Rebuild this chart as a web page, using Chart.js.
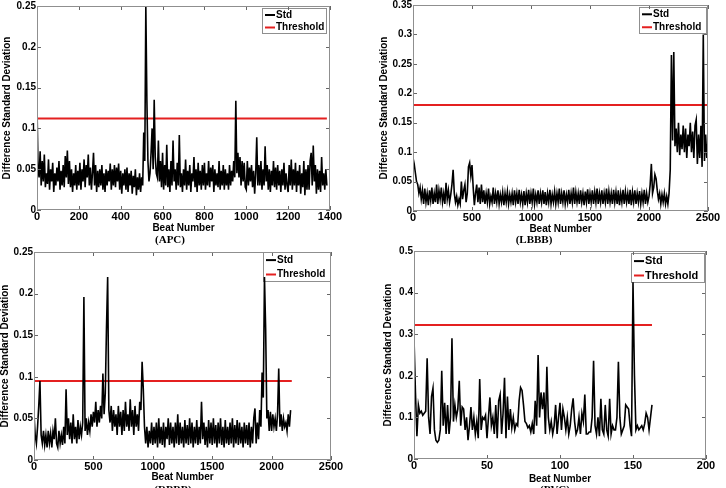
<!DOCTYPE html>
<html>
<head>
<meta charset="utf-8">
<script src="https://cdn.jsdelivr.net/npm/chart.js@4.4.1/dist/chart.umd.min.js"></script>
<style>
  body { margin: 0; width: 726px; height: 488px; overflow: hidden; background: #fff; position: relative; }
  canvas { position: absolute; }
  .cap { position: absolute; font: bold 11px "Liberation Serif", "Times New Roman", serif; transform: translate(-50%, -50%); white-space: nowrap; }
</style>
</head>
<body>
<script>
// APC record, one reading every 5 beats
const apcStep = 5;
const apcStd = [
  0.127, 0.050, 0.040, 0.072, 0.030, 0.060, 0.035, 0.068, 0.028, 0.045, 0.032, 0.062, 0.025, 0.050, 0.035, 0.058, 0.022, 0.045, 0.030, 0.052,
  0.035, 0.060, 0.025, 0.048, 0.030, 0.055, 0.028, 0.066, 0.040, 0.073, 0.032, 0.060, 0.028, 0.050, 0.022, 0.045, 0.030, 0.055, 0.025, 0.048,
  0.030, 0.058, 0.025, 0.050, 0.035, 0.062, 0.028, 0.055, 0.040, 0.068, 0.030, 0.052, 0.025, 0.045, 0.070, 0.030, 0.055, 0.022, 0.048, 0.028,
  0.050, 0.030, 0.055, 0.025, 0.045, 0.022, 0.050, 0.030, 0.048, 0.035, 0.057, 0.025, 0.050, 0.030, 0.055, 0.028, 0.052, 0.035, 0.057, 0.025,
  0.048, 0.020, 0.045, 0.030, 0.050, 0.025, 0.052, 0.022, 0.045, 0.030, 0.048, 0.020, 0.042, 0.028, 0.050, 0.018, 0.040, 0.025, 0.045, 0.022,
  0.040, 0.030, 0.095, 0.060, 0.250, 0.135, 0.060, 0.035, 0.045, 0.070, 0.100, 0.050, 0.135, 0.065, 0.045, 0.040, 0.085, 0.035, 0.060, 0.028,
  0.070, 0.025, 0.055, 0.030, 0.080, 0.028, 0.050, 0.022, 0.060, 0.030, 0.085, 0.035, 0.050, 0.025, 0.058, 0.030, 0.092, 0.028, 0.045, 0.022,
  0.050, 0.030, 0.062, 0.025, 0.048, 0.030, 0.055, 0.022, 0.045, 0.035, 0.065, 0.028, 0.050, 0.022, 0.058, 0.030, 0.048, 0.025, 0.055, 0.030,
  0.058, 0.025, 0.045, 0.030, 0.060, 0.028, 0.052, 0.035, 0.055, 0.022, 0.050, 0.030, 0.045, 0.028, 0.060, 0.025, 0.048, 0.030, 0.055, 0.025,
  0.050, 0.030, 0.045, 0.025, 0.055, 0.030, 0.048, 0.035, 0.060, 0.040, 0.134, 0.045, 0.070, 0.040, 0.065, 0.030, 0.060, 0.035, 0.058, 0.028,
  0.025, 0.060, 0.030, 0.052, 0.035, 0.055, 0.028, 0.048, 0.020, 0.045, 0.089, 0.030, 0.055, 0.030, 0.060, 0.025, 0.050, 0.030, 0.078, 0.035,
  0.055, 0.025, 0.050, 0.022, 0.048, 0.030, 0.060, 0.028, 0.052, 0.025, 0.055, 0.030, 0.048, 0.022, 0.050, 0.030, 0.058, 0.025, 0.045, 0.030,
  0.022, 0.055, 0.030, 0.062, 0.025, 0.050, 0.030, 0.058, 0.022, 0.048, 0.030, 0.055, 0.020, 0.045, 0.028, 0.060, 0.018, 0.050, 0.025, 0.055,
  0.025, 0.060, 0.070, 0.030, 0.079, 0.035, 0.055, 0.020, 0.050, 0.025, 0.048, 0.022, 0.065, 0.030, 0.045, 0.025, 0.050, 0.030
];
const apcThreshold = 0.112;
const apcEnd = 1385;
const apcXAxis = [0, 1400, 200];
const apcYAxis = [0, 0.25, 0.05];

// LBBB record, one reading every 10 beats
const lbbbStep = 10;
const lbbbStd = [
  0.090, 0.080, 0.065, 0.050, 0.045, 0.030, 0.040, 0.020, 0.035, 0.012, 0.038, 0.015, 0.030, 0.010, 0.035, 0.018, 0.040, 0.012, 0.030, 0.015,
  0.045, 0.012, 0.035, 0.020, 0.040, 0.015, 0.030, 0.012, 0.048, 0.020, 0.035, 0.015, 0.028, 0.045, 0.070, 0.030, 0.015, 0.025, 0.010, 0.020,
  0.012, 0.050, 0.020, 0.035, 0.045, 0.015, 0.030, 0.075, 0.082, 0.060, 0.078, 0.040, 0.010, 0.030, 0.045, 0.015, 0.040, 0.012, 0.045, 0.015,
  0.035, 0.012, 0.030, 0.015, 0.038, 0.012, 0.025, 0.015, 0.040, 0.012, 0.030, 0.015, 0.035, 0.012, 0.028, 0.015, 0.032, 0.010, 0.030, 0.015,
  0.033, 0.012, 0.028, 0.015, 0.030, 0.010, 0.035, 0.015, 0.030, 0.012, 0.036, 0.015, 0.028, 0.012, 0.034, 0.010, 0.030, 0.015, 0.036, 0.012,
  0.030, 0.015, 0.038, 0.012, 0.028, 0.015, 0.035, 0.012, 0.030, 0.015, 0.035, 0.012, 0.032, 0.010, 0.030, 0.015, 0.036, 0.012, 0.028, 0.015,
  0.033, 0.012, 0.030, 0.015, 0.038, 0.012, 0.030, 0.015, 0.035, 0.012, 0.028, 0.015, 0.036, 0.012, 0.030, 0.015, 0.040, 0.012, 0.032, 0.015,
  0.030, 0.012, 0.035, 0.015, 0.030, 0.010, 0.033, 0.015, 0.037, 0.012, 0.030, 0.015, 0.035, 0.012, 0.032, 0.015, 0.038, 0.012, 0.030, 0.015,
  0.035, 0.012, 0.030, 0.015, 0.038, 0.012, 0.033, 0.015, 0.030, 0.012, 0.036, 0.015, 0.032, 0.012, 0.035, 0.010, 0.030, 0.015, 0.036, 0.012,
  0.033, 0.015, 0.030, 0.012, 0.036, 0.010, 0.032, 0.015, 0.035, 0.012, 0.030, 0.015, 0.034, 0.012, 0.030, 0.015, 0.036, 0.012, 0.030, 0.015,
  0.025, 0.045, 0.080, 0.030, 0.040, 0.062, 0.055, 0.035, 0.020, 0.030, 0.012, 0.028, 0.015, 0.030, 0.012, 0.025, 0.012, 0.030, 0.070, 0.265,
  0.120, 0.270, 0.110, 0.140, 0.100, 0.150, 0.095, 0.130, 0.105, 0.145, 0.100, 0.140, 0.090, 0.130, 0.110, 0.150, 0.100, 0.135, 0.090, 0.145,
  0.155, 0.080, 0.130, 0.090, 0.145, 0.075, 0.300, 0.085, 0.130, 0.090, 0.120
];
const lbbbThreshold = 0.18;
const lbbbEnd = 2500;
const lbbbXAxis = [0, 2500, 500];
const lbbbYAxis = [0, 0.35, 0.05];

// RBBB record, one reading every 10 beats
const rbbbStep = 10;
const rbbbStd = [
  0.055, 0.030, 0.020, 0.040, 0.065, 0.095, 0.030, 0.020, 0.035, 0.018, 0.030, 0.015, 0.035, 0.020, 0.032, 0.015, 0.035, 0.025, 0.050, 0.020,
  0.015, 0.035, 0.020, 0.030, 0.018, 0.040, 0.020, 0.085, 0.030, 0.050, 0.025, 0.045, 0.020, 0.055, 0.025, 0.040, 0.020, 0.048, 0.025, 0.040,
  0.030, 0.045, 0.196, 0.035, 0.050, 0.030, 0.045, 0.035, 0.055, 0.040, 0.058, 0.045, 0.070, 0.040, 0.060, 0.045, 0.065, 0.050, 0.104, 0.055,
  0.080, 0.158, 0.220, 0.060, 0.045, 0.065, 0.035, 0.060, 0.040, 0.055, 0.030, 0.065, 0.040, 0.058, 0.030, 0.060, 0.035, 0.070, 0.040, 0.055,
  0.035, 0.073, 0.040, 0.060, 0.030, 0.065, 0.040, 0.055, 0.035, 0.070, 0.060, 0.118, 0.085, 0.040, 0.020, 0.040, 0.015, 0.035, 0.020, 0.045,
  0.018, 0.040, 0.020, 0.045, 0.015, 0.050, 0.020, 0.040, 0.018, 0.045, 0.015, 0.040, 0.025, 0.050, 0.018, 0.045, 0.020, 0.040, 0.015, 0.045,
  0.020, 0.055, 0.018, 0.045, 0.020, 0.040, 0.015, 0.048, 0.020, 0.042, 0.018, 0.050, 0.020, 0.045, 0.015, 0.040, 0.020, 0.048, 0.018, 0.040,
  0.020, 0.070, 0.025, 0.045, 0.018, 0.040, 0.015, 0.048, 0.020, 0.045, 0.018, 0.050, 0.020, 0.042, 0.015, 0.045, 0.020, 0.050, 0.018, 0.040,
  0.015, 0.048, 0.020, 0.040, 0.018, 0.045, 0.020, 0.050, 0.015, 0.042, 0.020, 0.048, 0.018, 0.045, 0.020, 0.040, 0.015, 0.045, 0.020, 0.042,
  0.018, 0.045, 0.015, 0.040, 0.020, 0.050, 0.062, 0.020, 0.045, 0.025, 0.060, 0.040, 0.105, 0.075, 0.220, 0.157, 0.050, 0.060, 0.035, 0.058,
  0.035, 0.055, 0.040, 0.050, 0.035, 0.055, 0.110, 0.040, 0.055, 0.035, 0.050, 0.040, 0.045, 0.035, 0.055, 0.040, 0.060
];
const rbbbThreshold = 0.095;
const rbbbEnd = 2170;
const rbbbXAxis = [0, 2500, 500];
const rbbbYAxis = [0, 0.25, 0.05];

// PVC record, every beat
const pvcStep = 1;
const pvcStd = [
  0.290, 0.160, 0.055, 0.130, 0.110, 0.115, 0.105, 0.110, 0.115, 0.242,
  0.100, 0.060, 0.150, 0.170, 0.070, 0.045, 0.040, 0.045, 0.070, 0.212,
  0.080, 0.135, 0.060, 0.130, 0.060, 0.100, 0.290, 0.090, 0.130, 0.100,
  0.120, 0.188, 0.080, 0.125, 0.120, 0.070, 0.100, 0.045, 0.080, 0.125,
  0.070, 0.100, 0.060, 0.090, 0.050, 0.192, 0.070, 0.100, 0.095, 0.105,
  0.050, 0.100, 0.148, 0.080, 0.100, 0.060, 0.130, 0.050, 0.140, 0.155,
  0.060, 0.110, 0.195, 0.050, 0.150, 0.070, 0.120, 0.075, 0.100, 0.070,
  0.085, 0.080, 0.140, 0.172, 0.165, 0.130, 0.090, 0.085, 0.075, 0.080,
  0.065, 0.085, 0.060, 0.140, 0.080, 0.250, 0.100, 0.160, 0.120, 0.160,
  0.060, 0.222, 0.100, 0.070, 0.090, 0.060, 0.080, 0.130, 0.060, 0.100,
  0.135, 0.070, 0.120, 0.100, 0.070, 0.100, 0.060, 0.080, 0.120, 0.146,
  0.090, 0.060, 0.070, 0.100, 0.060, 0.110, 0.090, 0.155, 0.060, 0.060,
  0.065, 0.065, 0.100, 0.236, 0.080, 0.060, 0.100, 0.055, 0.145, 0.070,
  0.060, 0.130, 0.070, 0.055, 0.145, 0.060, 0.080, 0.070, 0.070, 0.100,
  0.234, 0.100, 0.060, 0.070, 0.080, 0.130, 0.125, 0.120, 0.080, 0.055,
  0.425, 0.200, 0.070, 0.080, 0.070, 0.075, 0.080, 0.070, 0.085, 0.110,
  0.100, 0.070, 0.100, 0.130
];
const pvcThreshold = 0.322;
const pvcEnd = 163;
const pvcXAxis = [0, 200, 50];
const pvcYAxis = [0, 0.5, 0.1];

const seriesLabels = ['Std', 'Threshold'];

const panels = [
  { std: apcStd, step: apcStep, thr: apcThreshold, thrEnd: apcEnd, xAxis: apcXAxis, yAxis: apcYAxis,
    box: { l: 37, t: 6, r: 330, b: 210 }, yw: 36, xh: 24,
    lg: { w: 65, h: 26, dx: 3, dy: 2, fs: 10 }, caption: '(APC)', capX: 170, capY: 239 },
  { std: lbbbStd, step: lbbbStep, thr: lbbbThreshold, thrEnd: lbbbEnd, xAxis: lbbbXAxis, yAxis: lbbbYAxis,
    box: { l: 413, t: 5, r: 708, b: 211 }, yw: 35, xh: 24,
    lg: { w: 68, h: 27, dx: 1, dy: 2, fs: 10 }, caption: '(LBBB)', capX: 534, capY: 239 },
  { std: rbbbStd, step: rbbbStep, thr: rbbbThreshold, thrEnd: rbbbEnd, xAxis: rbbbXAxis, yAxis: rbbbYAxis,
    box: { l: 34, t: 252, r: 331, b: 460 }, yw: 35, xh: 23,
    lg: { w: 68, h: 30, dx: 0, dy: 0, fs: 10 }, caption: '(RBBB)', capX: 173, capY: 489 },
  { std: pvcStd, step: pvcStep, thr: pvcThreshold, thrEnd: pvcEnd, xAxis: pvcXAxis, yAxis: pvcYAxis,
    box: { l: 414, t: 251, r: 706, b: 459 }, yw: 32, xh: 26,
    lg: { w: 74, h: 30, dx: 1, dy: 2, fs: 11 }, caption: '(PVC)', capX: 555, capY: 489 }
];

Chart.defaults.font.family = '"Liberation Sans", Arial, sans-serif';
Chart.defaults.color = '#000';

// matlab-ish axes box: grey frame, inward ticks on all sides, boxed legend
const matlabFrame = {
  id: 'matlabFrame',
  beforeDatasetsDraw(chart, args, opts) {
    const { ctx, chartArea: a } = chart;
    const lg = opts.lg;
    const x0 = a.right - lg.w - lg.dx, y0 = a.top + lg.dy;
    ctx.save();
    ctx.fillStyle = '#fff';
    ctx.fillRect(x0, y0, lg.w, lg.h);
    ctx.strokeStyle = '#8f8f8f';
    ctx.lineWidth = 1;
    ctx.strokeRect(x0 + 0.5, y0 + 0.5, lg.w - 1, lg.h - 1);
    ctx.font = 'bold ' + lg.fs + 'px "Liberation Sans", Arial, sans-serif';
    ctx.textBaseline = 'middle';
    chart.data.datasets.forEach((ds, i) => {
      const y = y0 + lg.h * (i === 0 ? 0.27 : 0.75);
      ctx.strokeStyle = ds.borderColor;
      ctx.lineWidth = 2;
      ctx.beginPath();
      ctx.moveTo(x0 + 3, y);
      ctx.lineTo(x0 + 13, y);
      ctx.stroke();
      ctx.fillStyle = '#000';
      ctx.fillText(ds.label, x0 + 14, y);
    });
    ctx.restore();
  },
  afterDraw(chart) {
    const { ctx, chartArea: a, scales } = chart;
    ctx.save();
    ctx.strokeStyle = '#666';
    ctx.lineWidth = 1;
    ctx.beginPath();
    scales.x.ticks.forEach(t => {
      const px = Math.round(scales.x.getPixelForValue(t.value)) + 0.5;
      ctx.moveTo(px, a.bottom); ctx.lineTo(px, a.bottom - 4);
      ctx.moveTo(px, a.top); ctx.lineTo(px, a.top + 4);
    });
    scales.y.ticks.forEach(t => {
      const py = Math.round(scales.y.getPixelForValue(t.value)) + 0.5;
      ctx.moveTo(a.left, py); ctx.lineTo(a.left + 4, py);
      ctx.moveTo(a.right, py); ctx.lineTo(a.right - 4, py);
    });
    ctx.stroke();
    ctx.strokeStyle = '#8f8f8f';
    ctx.strokeRect(Math.round(a.left) + 0.5, Math.round(a.top) + 0.5,
      Math.round(a.right - a.left) - 1, Math.round(a.bottom - a.top) - 1);
    ctx.restore();
  }
};

panels.forEach(p => {
  const padTop = 6, padRight = 16;
  const canvas = document.createElement('canvas');
  canvas.width = p.yw + (p.box.r - p.box.l) + padRight;
  canvas.height = padTop + (p.box.b - p.box.t) + p.xh;
  canvas.style.left = (p.box.l - p.yw) + 'px';
  canvas.style.top = (p.box.t - padTop) + 'px';
  document.body.appendChild(canvas);

  const cap = document.createElement('div');
  cap.className = 'cap';
  cap.textContent = p.caption;
  cap.style.left = p.capX + 'px';
  cap.style.top = p.capY + 'px';
  document.body.appendChild(cap);

  new Chart(canvas.getContext('2d'), {
    type: 'line',
    data: {
      datasets: [{
        label: seriesLabels[0],
        data: p.std.map((v, i) => ({ x: i * p.step, y: v })),
        borderColor: '#000',
        borderWidth: 1.6,
        pointRadius: 0,
        tension: 0,
      }, {
        label: seriesLabels[1],
        data: [{ x: 0, y: p.thr }, { x: p.thrEnd, y: p.thr }],
        borderColor: 'rgb(228,32,32)',
        borderWidth: 2,
        pointRadius: 0,
      }],
    },
    options: {
      responsive: false,
      animation: false,
      events: [],
      layout: { padding: { top: padTop, right: padRight, left: 0, bottom: 0 } },
      plugins: {
        legend: { display: false },
        tooltip: { enabled: false },
        matlabFrame: { lg: p.lg },
      },
      scales: {
        x: {
          type: 'linear',
          min: p.xAxis[0], max: p.xAxis[1],
          grid: { display: false, drawTicks: false },
          border: { display: false },
          ticks: {
            stepSize: p.xAxis[2], autoSkip: false, maxRotation: 0, padding: 0,
            font: { size: 11, weight: 'bold' },
            callback: v => String(v),
          },
          title: { display: true, text: 'Beat Number', padding: 0, font: { size: 10, weight: 'bold' } },
          afterFit: s => { s.height = p.xh; s.paddingLeft = 0; s.paddingRight = 0; },
        },
        y: {
          min: p.yAxis[0], max: p.yAxis[1],
          grid: { display: false, drawTicks: false },
          border: { display: false },
          ticks: {
            stepSize: p.yAxis[2], padding: 1,
            font: { size: 10, weight: 'bold' },
            callback: v => String(+v.toFixed(3)),
          },
          title: { display: true, text: 'Difference Standard Deviation', padding: 0, font: { size: 10, weight: 'bold' } },
          afterFit: s => { s.width = p.yw; s.paddingTop = 0; s.paddingBottom = 0; },
        },
      },
    },
    plugins: [matlabFrame],
  });
});
</script>
</body>
</html>
